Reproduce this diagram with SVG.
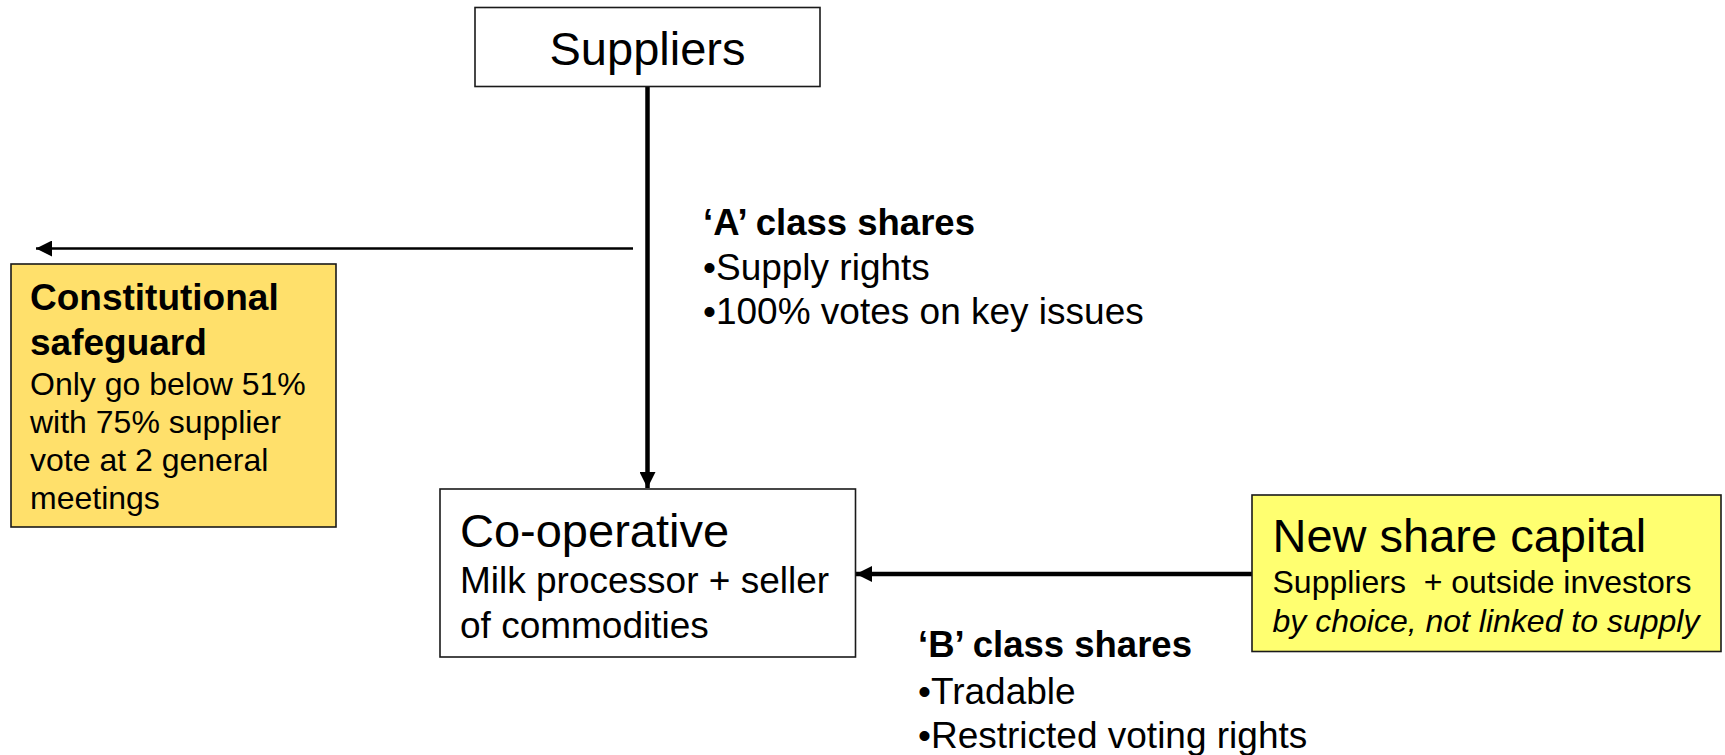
<svg xmlns="http://www.w3.org/2000/svg" width="1725" height="755" viewBox="0 0 1725 755">
  <style>
    text { font-family: "Liberation Sans", Arial, sans-serif; fill: #000; }
    .box { stroke: #1a1a1a; stroke-width: 1.6; }
    .plain { fill: #ffffff; }
    .gold { fill: #ffe06b; }
    .lemon { fill: #ffff70; }
    .title { font-size: 47px; }
    .head { font-size: 36.5px; font-weight: bold; }
    .body { font-size: 37px; }
    .small { font-size: 32px; }
    .heavy { stroke: #000; stroke-width: 4.5; fill: none; }
    .thin { stroke: #000; stroke-width: 2.3; fill: none; }
  </style>
  <defs>
    <marker id="tip" viewBox="0 0 16 16" refX="16" refY="8" markerWidth="16" markerHeight="16" markerUnits="userSpaceOnUse" orient="auto">
      <path d="M0,0 L16,8 L0,16 Z" fill="#000"/>
    </marker>
  </defs>

  <rect width="1725" height="755" fill="#ffffff"/>

  <!-- connectors -->
  <g id="connectors">
    <line class="heavy" x1="647.5" y1="87" x2="647.5" y2="488" marker-end="url(#tip)"/>
    <line class="thin" x1="633" y1="248.5" x2="36" y2="248.5" marker-end="url(#tip)"/>
    <line class="heavy" x1="1252" y1="574" x2="856" y2="574" marker-end="url(#tip)"/>
  </g>

  <!-- Suppliers -->
  <g id="suppliers">
    <rect class="box plain" x="475" y="7.5" width="345" height="79"/>
    <text class="title" x="647.5" y="65" text-anchor="middle">Suppliers</text>
  </g>

  <!-- A class share label -->
  <g id="a-shares">
    <text class="head" x="703" y="235">‘A’ class shares</text>
    <text class="body" x="703" y="279.5">•Supply rights</text>
    <text class="body" x="703" y="323.5">•100% votes on key issues</text>
  </g>

  <!-- Constitutional safeguard -->
  <g id="safeguard">
    <rect class="box gold" x="11" y="264" width="325" height="263"/>
    <text class="head" x="30" y="310" style="font-size:37px">Constitutional</text>
    <text class="head" x="30" y="355" style="font-size:37px">safeguard</text>
    <text class="small" x="30" y="395">Only go below 51%</text>
    <text class="small" x="30" y="433">with 75% supplier</text>
    <text class="small" x="30" y="471">vote at 2 general</text>
    <text class="small" x="30" y="509">meetings</text>
  </g>

  <!-- Co-operative -->
  <g id="cooperative">
    <rect class="box plain" x="440" y="489" width="415.5" height="168"/>
    <text class="title" x="460" y="547">Co-operative</text>
    <text class="body" x="460" y="593">Milk processor + seller</text>
    <text class="body" x="460" y="638">of commodities</text>
  </g>

  <!-- New share capital -->
  <g id="new-capital">
    <rect class="box lemon" x="1252" y="495" width="469" height="156.5"/>
    <text class="title" x="1272.5" y="552">New share capital</text>
    <text class="small" x="1272.5" y="593" xml:space="preserve">Suppliers  + outside investors</text>
    <text class="small" x="1272.5" y="632" font-style="italic">by choice, not linked to supply</text>
  </g>

  <!-- B class share label -->
  <g id="b-shares">
    <text class="head" x="918" y="657">‘B’ class shares</text>
    <text class="body" x="918" y="703.5">•Tradable</text>
    <text class="body" x="918" y="748">•Restricted voting rights</text>
  </g>
</svg>
